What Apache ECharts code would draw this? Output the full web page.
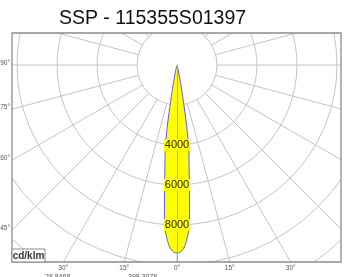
<!DOCTYPE html>
<html><head><meta charset="utf-8">
<script src="https://cdn.jsdelivr.net/npm/echarts@6/dist/echarts.min.js"></script>
<style>html,body{margin:0;padding:0;background:#fff}#c{width:344px;height:277px}</style>
</head><body><div id="c"></div>
<script>
// ---- data ----
const chartTitle = 'SSP - 115355S01397';
const unitLabel = 'cd/klm';
// angle from nadir (deg), negative = right side
const beamAngles = [-90,-60,-40,-30,-25,-20,-17,-15,-14,-13,-12,-11,-10,-9,-8,-7,-6,-5,-4,-3,-2,-1,0,1,2,3,4,5,6,7,8,9,10,11,12,13,14,15,17,20,25,30,40,60,90];
const beamValues = [0,5,15,30,45,70,100,150,230,360,550,1000,1800,3100,4200,4950,5900,7200,8300,8850,9200,9350,9400,9350,9200,8850,8300,7200,5900,4950,4200,3100,1800,1000,550,360,230,150,100,70,45,30,15,5,0];
const radiusLabelValues = [4000, 6000, 8000];
const sideTickAngles = [90, 75, 60, 45];
const sideTickLabels = ['90°', '75°', '60°', '45°'];
const bottomTickAngles = [30, 15, 0, -15, -30];
const bottomTickLabels = ['30°', '15°', '0°', '15°', '30°'];
const footNotes = ['28.8468', '398.3078'];

// ---- layout ----
const cx = 177, cy = 65, pxPer1000 = 20;
const rMaxVal = 14000, rOuter = rMaxVal / 1000 * pxPer1000;
const fx0 = 12, fy0 = 33, fx1 = 341, fy1 = 262;
const gridColor = '#c4c4c4';
const font = 'Liberation Sans, Arial, sans-serif';

const chart = echarts.init(document.getElementById('c'), null, {renderer: 'canvas'});

const beamData = beamAngles.map((a, i) => [beamValues[i], a]);

const graphics = [];
const maskStyle = {fill: '#fff'};
graphics.push({type: 'rect', shape: {x: 0, y: 0, width: 344, height: fy0}, style: maskStyle, z: 100, silent: true});
graphics.push({type: 'rect', shape: {x: 0, y: 0, width: fx0, height: 277}, style: maskStyle, z: 100, silent: true});
graphics.push({type: 'rect', shape: {x: fx1, y: 0, width: 10, height: 277}, style: maskStyle, z: 100, silent: true});
graphics.push({type: 'rect', shape: {x: 0, y: fy1, width: 344, height: 20}, style: maskStyle, z: 100, silent: true});
graphics.push({type: 'rect', shape: {x: fx0, y: fy0, width: fx1 - fx0, height: fy1 - fy0}, style: {fill: null, stroke: '#8c8c8c', lineWidth: 1.3}, z: 101, silent: true});
graphics.push({type: 'text', x: 152.5, y: 19, style: {text: chartTitle, fontFamily: font, fontSize: 19.5, fill: '#111', align: 'center', verticalAlign: 'middle'}, z: 102});
graphics.push({type: 'rect', shape: {x: fx0, y: 249, width: 33, height: fy1 - 249}, style: {fill: '#fff', stroke: '#8c8c8c', lineWidth: 1}, z: 102});
graphics.push({type: 'text', x: 28.5, y: 256, style: {text: unitLabel, fontFamily: font, fontSize: 10, fontWeight: 'bold', fill: '#333', align: 'center', verticalAlign: 'middle'}, z: 103});
sideTickAngles.forEach((a, i) => {
  const t = a * Math.PI / 180;
  const y = a === 90 ? cy : cy + (cx - fx0) / Math.tan(t);
  graphics.push({type: 'text', x: fx0 - 2, y: y - 2, style: {text: sideTickLabels[i], fontFamily: font, fontSize: 6.5, fill: '#555', align: 'right', verticalAlign: 'middle'}, z: 102});
});
bottomTickAngles.forEach((a, i) => {
  const t = a * Math.PI / 180;
  const x = cx - (fy1 - cy) * Math.tan(t);
  graphics.push({type: 'text', x: x, y: fy1 + 6, style: {text: bottomTickLabels[i], fontFamily: font, fontSize: 6.5, fill: '#555', align: 'center', verticalAlign: 'middle'}, z: 102});
});
// footnotes, cut off by the bottom edge
graphics.push({type: 'text', x: 45, y: 274, style: {text: footNotes[0], fontFamily: font, fontSize: 7, fill: '#555', align: 'left', verticalAlign: 'top'}, z: 102});
graphics.push({type: 'text', x: 128, y: 274, style: {text: footNotes[1], fontFamily: font, fontSize: 7, fill: '#555', align: 'left', verticalAlign: 'top'}, z: 102});

const option = {
  animation: false,
  polar: [
    {center: [cx, cy], radius: [40, rOuter]},
    {center: [cx, cy], radius: [0, rOuter]},
    {center: [cx, cy], radius: [0, rOuter]}
  ],
  angleAxis: [
    {polarIndex: 0, type: 'value', min: 0, max: 360, interval: 15, startAngle: 270, clockwise: true,
     axisLine: {show: false}, axisTick: {show: false}, axisLabel: {show: false},
     splitLine: {show: true, lineStyle: {color: gridColor, width: 1}}},
    {polarIndex: 1, type: 'value', min: -180, max: 180, startAngle: 90, clockwise: true,
     axisLine: {show: false}, axisTick: {show: false}, axisLabel: {show: false}, splitLine: {show: false}},
    {polarIndex: 2, type: 'value', min: 0, max: 360, startAngle: 270, clockwise: true,
     axisLine: {show: false}, axisTick: {show: false}, axisLabel: {show: false}, splitLine: {show: false}}
  ],
  radiusAxis: [
    {polarIndex: 0, type: 'value', min: 2000, max: rMaxVal, interval: 2000,
     axisLine: {show: false}, axisTick: {show: false}, axisLabel: {show: false},
     splitLine: {show: true, lineStyle: {color: gridColor, width: 1}}},
    {polarIndex: 1, type: 'value', min: 0, max: rMaxVal,
     axisLine: {show: false}, axisTick: {show: false}, axisLabel: {show: false}, splitLine: {show: false}},
    {polarIndex: 2, type: 'value', min: 0, max: rMaxVal, interval: 2000, z: 10,
     axisLine: {show: true, lineStyle: {color: '#a8a8a8', width: 1}}, axisTick: {show: false},
     splitLine: {show: false},
     axisLabel: {show: true, margin: 0, align: 'center', verticalAlign: 'middle',
       formatter: v => radiusLabelValues.indexOf(v) >= 0 ? String(v) : '',
       backgroundColor: '#ffff00', padding: [1, 1, 0, 1], color: '#222', fontSize: 11,
       fontFamily: font}}
  ],
  series: [{
    type: 'line', coordinateSystem: 'polar', polarIndex: 1, data: beamData,
    symbol: 'none', smooth: 0.3, z: 3,
    lineStyle: {color: '#5a5aff', width: 1},
    areaStyle: {color: '#ffff00', opacity: 1}
  }],
  graphic: {elements: graphics}
};
chart.setOption(option);
</script></body></html>
